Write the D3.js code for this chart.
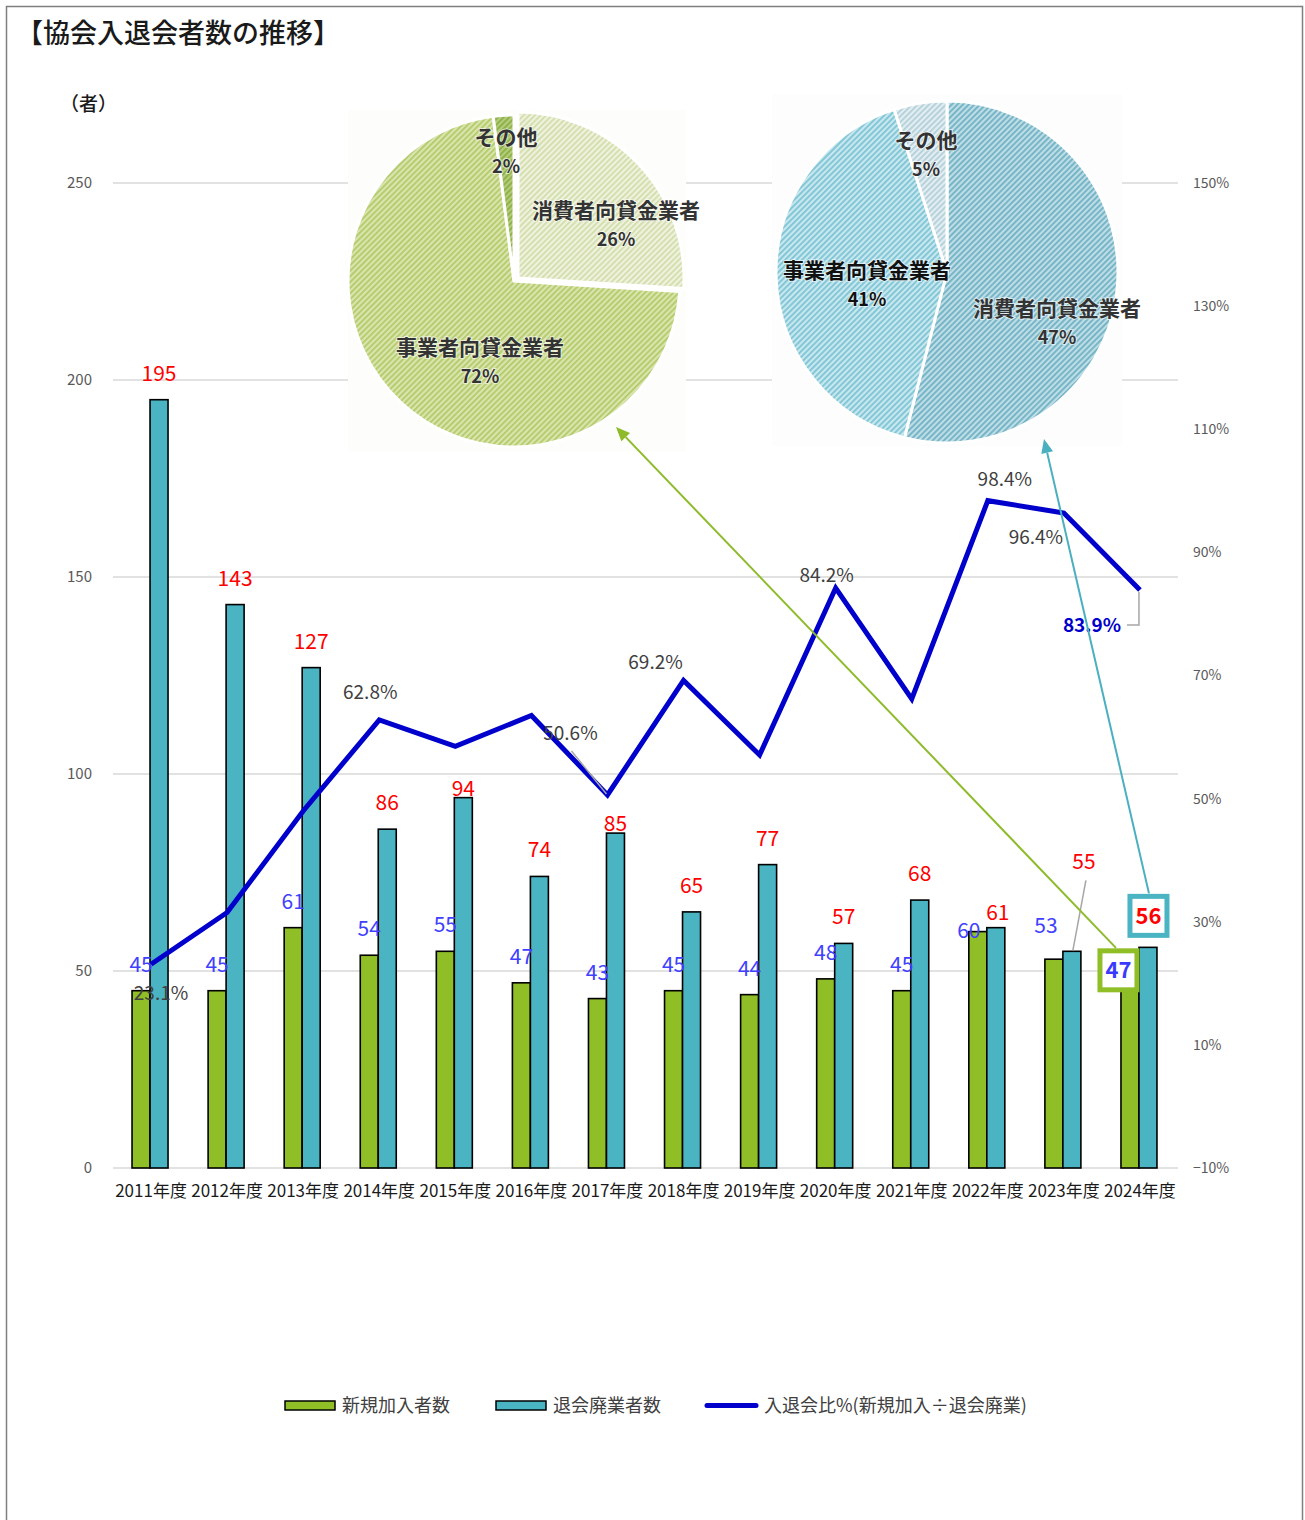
<!DOCTYPE html>
<html><head><meta charset="utf-8">
<script src="https://cdn.jsdelivr.net/npm/d3@7"></script>
<style>
body{margin:0;background:#fff;}
svg{display:block;font-family:"Noto Sans CJK JP","Noto Sans",sans-serif;}
</style></head>
<body>
<script>
// ---------- data ----------
const years = ['2011年度','2012年度','2013年度','2014年度','2015年度','2016年度','2017年度','2018年度','2019年度','2020年度','2021年度','2022年度','2023年度','2024年度'];
const newMembers = [45,45,61,54,55,47,43,45,44,48,45,60,53,47];
const withdrawals = [195,143,127,86,94,74,85,65,77,57,68,61,55,56];
const ratioPct = [23.1,31.5,48.0,62.8,58.5,63.5,50.6,69.2,57.1,84.2,66.2,98.4,96.4,83.9];
const ratioLabelShown = [true,false,false,true,false,false,true,true,false,true,false,true,true,true];
const leftTicks = [0,50,100,150,200,250];
const rightTicks = [-10,10,30,50,70,90,110,130,150];
const pieCategories = ['消費者向貸金業者','事業者向貸金業者','その他'];
const pieLeftValues = [26,72,2];
const pieLeftLabels = ['26%','72%','2%'];
const pieRightValues = [54,41,5];
const pieRightLabels = ['47%','41%','5%'];
const legendLabels = ['新規加入者数','退会廃業者数','入退会比%(新規加入÷退会廃業)'];

// ---------- layout ----------
const W = 1305, H = 1520;
const L = 113, R = 1178, T = 183, B = 1168;
const GREEN = '#8FBE27', BLUE = '#4AB4C3', LINE = '#0000CC';
const NEWC = '#4040FF', EXITC = '#FF0000', TXT = '#404040';

const svg = d3.select('body').append('svg').attr('width', W).attr('height', H);

// patterns for pies
const defs = svg.append('defs');
function stripe(id, base, line){
  const p = defs.append('pattern').attr('id', id).attr('patternUnits','userSpaceOnUse')
    .attr('width',4).attr('height',4).attr('patternTransform','rotate(45)');
  p.append('rect').attr('width',4).attr('height',4).attr('fill',base);
  p.append('rect').attr('width',1.8).attr('height',4).attr('fill',line);
}
stripe('pl0','#EEF2DE','#D2DDAA');
stripe('pl1','#D9E5AE','#B4CA68');
stripe('pl2','#B4CD7A','#8CAF48');
stripe('pr0','#BFDDE6','#6FB2C4');
stripe('pr1','#C8E7EF','#7CC4D4');
stripe('pr2','#E2EEF2','#B3CFD8');

// border
svg.append('rect').attr('x',6.5).attr('y',6.5).attr('width',1296).attr('height',1540)
  .attr('fill','none').attr('stroke','#7F7F7F').attr('stroke-width',1.5);

// title
svg.append('text').attr('x',16).attr('y',43).attr('font-size',27).attr('fill','#1a1a1a')
  .attr('font-weight',500).text('【協会入退会者数の推移】');
svg.append('text').attr('x',60).attr('y',111).attr('font-size',19).attr('fill','#1a1a1a')
  .attr('font-weight',500).text('（者）');

// scales
const x = d3.scaleBand().domain(years).range([L,R]).padding(0);
const cx = d => x(d) + x.bandwidth()/2;
const yL = d3.scaleLinear().domain([0,250]).range([B,T]);
const yR = d3.scaleLinear().domain([-10,150]).range([B,T]);

// gridlines
svg.append('g').selectAll('line').data(leftTicks).join('line')
  .attr('x1',L).attr('x2',R).attr('y1',d=>yL(d)).attr('y2',d=>yL(d))
  .attr('stroke','#D9D9D9').attr('stroke-width',1.5);

// left axis
const gl = svg.append('g').attr('transform',`translate(${92},0)`)
  .call(d3.axisLeft(yL).tickValues(leftTicks).tickSize(0).tickPadding(0));
gl.select('.domain').remove();
gl.selectAll('text').attr('font-size',15).attr('fill','#595959').attr('font-family','"Noto Sans CJK JP",sans-serif');

// right axis
const gr = svg.append('g').attr('transform',`translate(${R},0)`)
  .call(d3.axisRight(yR).tickValues(rightTicks).tickSize(0).tickPadding(15)
    .tickFormat(d => (d<0?'−':'') + Math.abs(d) + '%'));
gr.select('.domain').remove();
gr.selectAll('text').attr('font-size',14).attr('fill','#595959').attr('font-family','"Noto Sans CJK JP",sans-serif');

// x axis
const gx = svg.append('g').attr('transform',`translate(0,${B})`)
  .call(d3.axisBottom(x).tickSize(0).tickPadding(17));
gx.select('.domain').remove();
gx.selectAll('text').attr('font-size',17).attr('fill','#1a1a1a').attr('font-family','"Noto Sans CJK JP",sans-serif');

// pie backgrounds (to hide grid behind pasted pies)
svg.append('rect').attr('x',348).attr('y',110).attr('width',338).attr('height',342).attr('fill','#FDFDFB');
svg.append('rect').attr('x',772).attr('y',94).attr('width',350).attr('height',352).attr('fill','#FDFDFD');

// pies
function drawPie(values, labels, pat, cxp, cyp, r, explode, labelOffs, labelColors){
  const arcs = d3.pie().sort(null)(values);
  const arc = d3.arc().innerRadius(0).outerRadius(r);
  const g = svg.append('g').attr('transform',`translate(${cxp},${cyp})`);
  g.selectAll('path').data(arcs).join('path')
    .attr('d',arc)
    .attr('transform',(d,i)=> explode[i] ? `translate(${explode[i][0]},${explode[i][1]})` : null)
    .attr('fill',(d,i)=>`url(#${pat}${i})`)
    .attr('stroke','#fff').attr('stroke-width',3).attr('stroke-linejoin','round');
  arcs.forEach((d,i)=>{
    const t = g.append('text').attr('text-anchor','middle').attr('font-weight',700)
      .attr('fill',labelColors[i]).attr('font-size',21)
      .attr('stroke','rgba(255,255,255,0.6)').attr('stroke-width',2).attr('paint-order','stroke');
    t.append('tspan').attr('x',labelOffs[i][0]).attr('y',labelOffs[i][1]).text(pieCategories[i]);
    t.append('tspan').attr('x',labelOffs[i][0]).attr('y',labelOffs[i][1]+28).attr('font-size',18).text(labels[i]);
  });
}
drawPie(pieLeftValues, pieLeftLabels, 'pl', 514, 281, 166, [[4,-3],null,null],
  [[102,-63],[-34,74],[-8,-136]], ['#333','#333','#333']);
drawPie(pieRightValues, pieRightLabels, 'pr', 947, 272, 171, [null,null,null],
  [[110,44],[-80,6],[-21,-124]], ['#333','#111','#333']);

// bars
const bw = 18;
svg.append('g').selectAll('rect').data(years).join('rect')
  .attr('x',d=>cx(d)-bw-1).attr('y',(d,i)=>yL(newMembers[i])).attr('width',bw)
  .attr('height',(d,i)=>B-yL(newMembers[i]))
  .attr('fill',GREEN).attr('stroke','#000').attr('stroke-width',1.6);
svg.append('g').selectAll('rect').data(years).join('rect')
  .attr('x',d=>cx(d)-1).attr('y',(d,i)=>yL(withdrawals[i])).attr('width',bw)
  .attr('height',(d,i)=>B-yL(withdrawals[i]))
  .attr('fill',BLUE).attr('stroke','#000').attr('stroke-width',1.6);

// line
svg.append('path').datum(ratioPct)
  .attr('d', d3.line().x((d,i)=>cx(years[i])).y(d=>yR(d)))
  .attr('fill','none').attr('stroke',LINE).attr('stroke-width',5).attr('stroke-linejoin','miter');

// bar labels
const newNudge = {11:[-9,25],12:[-8,-7]};
const exitNudge = {4:[0,17],6:[0,17],11:[2,11],12:[12,-63]};
const lblNew = svg.append('g').attr('font-size',21).attr('fill',NEWC).attr('text-anchor','middle');
newMembers.forEach((v,i)=>{
  if(i===13) return;
  const n = newNudge[i]||[0,0];
  lblNew.append('text').attr('x',cx(years[i])-bw/2-1+n[0]).attr('y',yL(v)-19+n[1]).text(v);
});
const lblExit = svg.append('g').attr('font-size',21).attr('fill',EXITC).attr('text-anchor','middle');
withdrawals.forEach((v,i)=>{
  if(i===13) return;
  const n = exitNudge[i]||[0,0];
  lblExit.append('text').attr('x',cx(years[i])+bw/2-1+n[0]).attr('y',yL(v)-19+n[1]).text(v);
});
// leader for 2023 exit label
svg.append('line').attr('x1',cx(years[12])+bw/2+13).attr('y1',yL(withdrawals[12])-71)
  .attr('x2',cx(years[12])+bw/2).attr('y2',yL(withdrawals[12])-1)
  .attr('stroke','#A6A6A6').attr('stroke-width',1.5);

// ratio labels
const rNudge = {0:[10,36],3:[-9,-21],6:[-37,-55],7:[-28,-11],9:[-9,-6],11:[17,-15],12:[-28,31],13:[-48,42]};
const rl = svg.append('g');
ratioPct.forEach((v,i)=>{
  if(!ratioLabelShown[i]) return;
  const n = rNudge[i]||[0,-20];
  const last = i===13;
  rl.append('text').attr('x',cx(years[i])+n[0]).attr('y',yR(v)+n[1])
    .attr('text-anchor','middle').attr('font-size',19)
    .attr('fill', last?'#0000CC':TXT).attr('font-weight', last?700:400)
    .text(v.toFixed(1)+'%');
});
// leaders for 50.6% and 83.9%
svg.append('line').attr('x1',cx(years[6])-36).attr('y1',yR(ratioPct[6])-44)
  .attr('x2',cx(years[6])-1).attr('y2',yR(ratioPct[6])-1).attr('stroke','#A6A6A6').attr('stroke-width',1.5);
svg.append('path').attr('d',`M${cx(years[13])-13},${yR(ratioPct[13])+35}H${cx(years[13])-1}V${yR(ratioPct[13])+2}`)
  .attr('fill','none').attr('stroke','#A6A6A6').attr('stroke-width',1.5);

// highlighted 2024 labels
const c24 = cx(years[13]);
svg.append('rect').attr('x',c24-40).attr('y',yL(newMembers[13])-32).attr('width',37).attr('height',39)
  .attr('fill','#fff').attr('stroke',GREEN).attr('stroke-width',5);
svg.append('text').attr('x',c24-21.5).attr('y',yL(newMembers[13])-5).attr('text-anchor','middle')
  .attr('font-size',22).attr('font-weight',700).attr('fill','#3A3AFF').text(newMembers[13]);
svg.append('rect').attr('x',c24-10).attr('y',yL(withdrawals[13])-51).attr('width',37).attr('height',39)
  .attr('fill','#fff').attr('stroke',BLUE).attr('stroke-width',5);
svg.append('text').attr('x',c24+8.5).attr('y',yL(withdrawals[13])-23).attr('text-anchor','middle')
  .attr('font-size',22).attr('font-weight',700).attr('fill','#FF0000').text(withdrawals[13]);

// arrows
function arrow(x1,y1,x2,y2,color){
  const ang = Math.atan2(y2-y1,x2-x1);
  const len = 14, wd = 6;
  const bx = x2 - len*Math.cos(ang), by = y2 - len*Math.sin(ang);
  svg.append('line').attr('x1',x1).attr('y1',y1).attr('x2',bx).attr('y2',by)
    .attr('stroke',color).attr('stroke-width',2);
  svg.append('path').attr('d',`M${x2},${y2}L${bx+wd*Math.sin(ang)},${by-wd*Math.cos(ang)}L${bx-wd*Math.sin(ang)},${by+wd*Math.cos(ang)}Z`)
    .attr('fill',color);
}
arrow(c24-24, yL(newMembers[13])-35, 616, 427, '#8DBB2A');
arrow(c24+9, yL(withdrawals[13])-54, 1044, 439, '#4AB0C0');

// legend
const lg = svg.append('g').attr('font-size',18).attr('fill',TXT);
lg.append('rect').attr('x',285).attr('y',1401).attr('width',50).attr('height',9)
  .attr('fill',GREEN).attr('stroke','#000').attr('stroke-width',1.5);
lg.append('text').attr('x',342).attr('y',1411.5).text(legendLabels[0]);
lg.append('rect').attr('x',496).attr('y',1401).attr('width',50).attr('height',9)
  .attr('fill',BLUE).attr('stroke','#000').attr('stroke-width',1.5);
lg.append('text').attr('x',553).attr('y',1411.5).text(legendLabels[1]);
lg.append('line').attr('x1',707).attr('x2',756).attr('y1',1405.5).attr('y2',1405.5)
  .attr('stroke',LINE).attr('stroke-width',5).attr('stroke-linecap','round');
lg.append('text').attr('x',764).attr('y',1411.5).text(legendLabels[2]);
</script>
</body></html>
